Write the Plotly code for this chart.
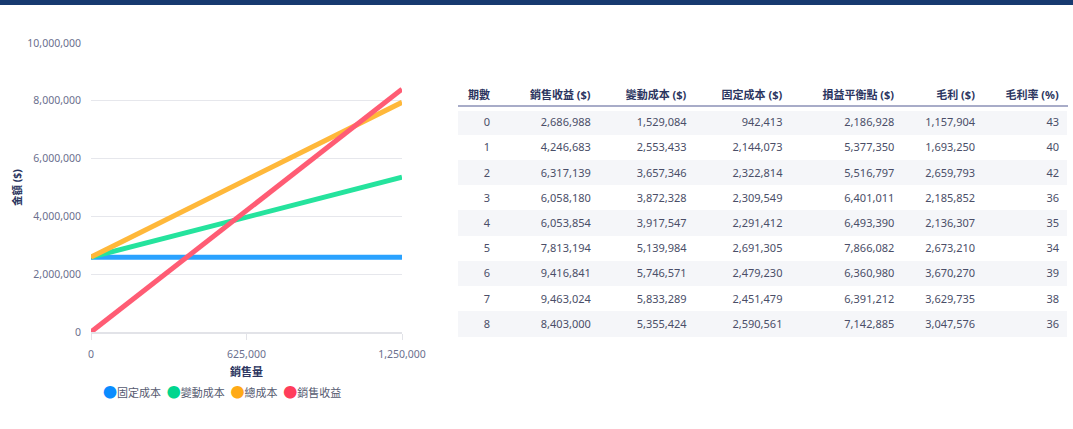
import plotly.graph_objects as go

W, H = 1073, 429

# ---- chart data (period 8) ----
volume = [0, 1250000]
fixed_cost = [2590561, 2590561]
variable_cost = [2590561, 5355424]
total_cost = [2590561, 7945985]
revenue = [0, 8403000]

series_names = ["固定成本", "變動成本", "總成本", "銷售收益"]
series_vals = [fixed_cost, variable_cost, total_cost, revenue]
line_colors = ["#2aa2ff", "#25e39d", "#ffb83a", "#ff5c74"]
marker_colors = ["#0a8cff", "#00d68f", "#ffaa16", "#ff3d5b"]

# ---- table data ----
headers = ["期數", "銷售收益 ($)", "變動成本 ($)", "固定成本 ($)", "損益平衡點 ($)", "毛利 ($)", "毛利率 (%)"]
periods = [0, 1, 2, 3, 4, 5, 6, 7, 8]
sales = [2686988, 4246683, 6317139, 6058180, 6053854, 7813194, 9416841, 9463024, 8403000]
var_costs = [1529084, 2553433, 3657346, 3872328, 3917547, 5139984, 5746571, 5833289, 5355424]
fix_costs = [942413, 2144073, 2322814, 2309549, 2291412, 2691305, 2479230, 2451479, 2590561]
breakeven = [2186928, 5377350, 5516797, 6401011, 6493390, 7866082, 6360980, 6391212, 7142885]
gross = [1157904, 1693250, 2659793, 2185852, 2136307, 2673210, 3670270, 3629735, 3047576]
margin = [43, 40, 42, 36, 35, 34, 39, 38, 36]

FONT = "Noto Sans, Noto Sans CJK TC, sans-serif"
NAVY = "#2b3560"
TICK = "#6b6f8e"

fig = go.Figure()

for name, vals, lc in zip(series_names, series_vals, line_colors):
    fig.add_trace(go.Scatter(x=volume, y=vals, mode="lines", name=name,
                             line=dict(color=lc, width=5), showlegend=False,
                             cliponaxis=False, hoverinfo="skip"))

fmt = lambda v: f"{v:,}"
row_fill = ["#f5f6f9" if i % 2 == 0 else "#ffffff" for i in range(len(periods))]
fig.add_trace(go.Table(
    domain=dict(x=[458 / W, 1068 / W], y=[1 - 345 / H, 1 - 79 / H]),
    columnwidth=[40, 101, 96, 96, 112, 81, 84],
    header=dict(values=[f"<b>{h}</b>" for h in headers],
                align="right", height=25,
                fill=dict(color="#ffffff"),
                line=dict(color="#ffffff", width=1),
                font=dict(family=FONT, size=11, color=NAVY)),
    cells=dict(values=[[str(p) for p in periods],
                       [fmt(v) for v in sales],
                       [fmt(v) for v in var_costs],
                       [fmt(v) for v in fix_costs],
                       [fmt(v) for v in breakeven],
                       [fmt(v) for v in gross],
                       [str(v) for v in margin]],
               align="right", height=25.2,
               fill=dict(color=[row_fill] * 7),
               line=dict(color=[row_fill] * 7, width=1),
               font=dict(family=FONT, size=11, color="#4a4e68")),
))

legend_text = "  ".join(
    f"<span style='color:{c};font-size:14px'>●</span><span style='color:#555a70'>{n}</span>"
    for n, c in zip(series_names, marker_colors))

fig.update_layout(
    width=W, height=H,
    margin=dict(l=0, r=0, t=0, b=0),
    paper_bgcolor="#ffffff", plot_bgcolor="#ffffff",
    font=dict(family=FONT, size=11, color=TICK),
    xaxis=dict(domain=[91 / W, 402 / W], range=[0, 1250000],
               tickvals=[0, 625000, 1250000], tickformat=",",
               showgrid=False, zeroline=False,
               showline=True, linecolor="#e2e3e8", linewidth=2,
               ticks="outside", ticklen=6, tickcolor="#e2e3e8",
               ticklabelstandoff=5,
               tickfont=dict(size=10.5, color=TICK),
               title=dict(text="<b>銷售量</b>", font=dict(size=11, color=NAVY), standoff=9),
               automargin=False, fixedrange=True),
    yaxis=dict(domain=[1 - 332 / H, 1 - 43 / H], range=[0, 10000000],
               tickvals=[0, 2000000, 4000000, 6000000, 8000000, 10000000], tickformat=",",
               showgrid=True, gridcolor="#e6e7ec", gridwidth=1, zeroline=False,
               showline=False, ticks="", ticklabelstandoff=9,
               tickfont=dict(size=10.5, color=TICK),
               title=dict(text="<b>金額 ($)</b>", font=dict(size=10.5, color=NAVY), standoff=3),
               automargin=False, fixedrange=True),
    showlegend=False,
    annotations=[dict(text=legend_text, xref="paper", yref="paper",
                      x=222 / W, y=1 - 391 / H, xanchor="center", yanchor="middle",
                      showarrow=False, font=dict(size=11, family=FONT))],
    shapes=[dict(type="rect", xref="paper", yref="paper", x0=0, x1=1, y0=1 - 5 / H, y1=1,
                 fillcolor="#173a70", line=dict(width=0), layer="above"),
            dict(type="line", xref="paper", yref="paper", x0=458 / W, x1=1068 / W,
                 y0=1 - 106 / H, y1=1 - 106 / H,
                 line=dict(color="#a8acc8", width=2), layer="above")],
)

fig.write_html("out.html")
